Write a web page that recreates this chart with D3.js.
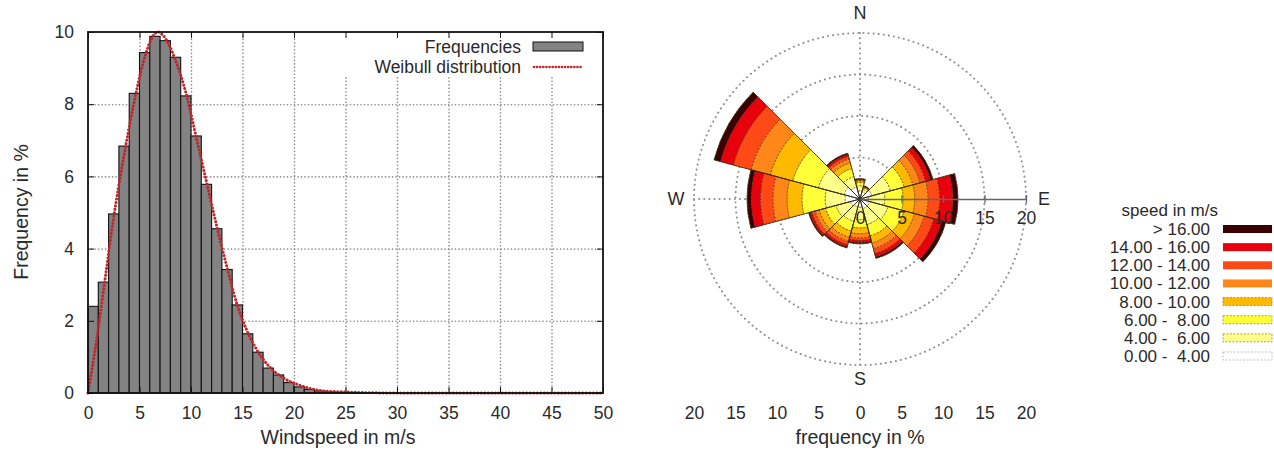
<!DOCTYPE html>
<html>
<head>
<meta charset="utf-8">
<script src="https://cdn.jsdelivr.net/npm/d3@7"></script>
<style>
	body { margin: 0; background: #fff; }
	text { font-family: "Liberation Sans", Arial, sans-serif; fill: #2a2a2a; white-space: pre; }
</style>
</head>
<body>
<script>
//everything inside an anonymous function so nothing ends up in global scope
(function () {
	//histogram data: one bar per 1 m/s bin (bin start in m/s, frequency in %)
	var binStart = [0,1,2,3,4,5,6,7,8,9,10,11,12,13,14,15,16,17,18,19,20,21,22,23,24,25,26,27,28,29];
	var binFreq = [2.40,3.07,4.96,6.84,8.30,9.43,9.88,9.76,9.30,8.23,7.12,5.78,4.55,3.42,2.44,1.64,1.13,0.69,0.50,0.29,0.17,0.10,0.06,0.03,0.02,0.01,0.01,0.005,0.005,0.005];

	//fitted weibull curve
	var weibullX = [0,0.84,1.65,2.46,3.43,4.4,5.37,6.34,6.8,7.31,8.45,9.58,10.55,11.52,12.5,13.47,14.43,15.4,16.4,17.7,19.0,20.3,21.5,22.8,24.8,27,30,50];
	var weibullY = [0,1.47,3.14,4.8,6.47,7.95,9.16,9.9,10.0,9.9,9.25,8.23,7.03,5.83,4.62,3.51,2.49,1.75,1.19,0.70,0.41,0.24,0.13,0.06,0.03,0.01,0,0];

	var histXTicks = [0,5,10,15,20,25,30,35,40,45,50];
	var histYTicks = [0,2,4,6,8,10];

	//wind rose data: 12 direction sectors (degrees from north), frequency in % per speed class
	var directions = [0,30,60,90,120,150,180,210,240,270,300,330];
	var classLabels = ["0.00 -  4.00","4.00 -  6.00","6.00 -  8.00","8.00 - 10.00","10.00 - 12.00","12.00 - 14.00","14.00 - 16.00","> 16.00"];
	var speed0to4   = [1.0,0.9,1.5,1.0,1.2,1.2,1.0,1.0,1.2,1.8,2.0,1.5];
	var speed4to6   = [0.6,0.3,2.3,2.0,2.3,2.0,1.5,1.8,1.8,2.4,3.2,1.3];
	var speed6to8   = [0.4,0.2,1.7,2.2,2.0,1.4,1.0,1.2,1.3,2.8,3.2,1.0];
	var speed8to10  = [0.2,0.1,1.1,1.4,1.3,0.9,0.7,0.8,0.8,1.8,2.8,0.7];
	var speed10to12 = [0.1,0.05,0.9,1.6,1.2,0.7,0.5,0.5,0.5,1.7,2.4,0.5];
	var speed12to14 = [0.05,0.05,0.7,1.4,1.2,0.6,0.3,0.4,0.4,1.5,2.2,0.3];
	var speed14to16 = [0.05,0.02,0.6,1.6,1.0,0.4,0.25,0.25,0.25,1.1,1.6,0.25];
	var speedOver16 = [0.05,0.03,0.3,0.6,0.5,0.2,0.15,0.15,0.15,0.5,0.8,0.15];
	var classColors = ["#ffffff","#ffff8c","#ffff38","#ffba00","#ff8618","#ff4a16","#e8000c","#3a0000"];

	var roseRings = [5,10,15,20];
	var roseAxisTicks = [0,5,10,15,20];
	var freqTicks = [-20,-15,-10,-5,0,5,10,15,20];

	var svg = d3.select("body")
		.append("svg")
		.attr("width", 1274)
		.attr("height", 450);

	drawHistogram();
	drawRose();
	drawRoseLegend();

	function drawHistogram() {
		var x = d3.scaleLinear().domain([0, 50]).range([88, 603]);
		var y = d3.scaleLinear().domain([0, 10]).range([393, 32]);
		var g = svg.append("g").attr("class", "hist");

		//dotted grid lines
		var dots = function (sel) {
			sel.select(".domain").remove();
			sel.selectAll("text").remove();
			sel.selectAll("line")
				.attr("stroke", "#8a8a8a")
				.attr("stroke-width", 1.6)
				.attr("stroke-linecap", "round")
				.attr("stroke-dasharray", "0.1,3.4");
		};
		g.append("g")
			.attr("transform", "translate(0," + y(0) + ")")
			.call(d3.axisBottom(x).tickValues(histXTicks.slice(1, -1)).tickSize(-(y(0) - y(10))))
			.call(dots);
		g.append("g")
			.attr("transform", "translate(" + x(0) + ",0)")
			.call(d3.axisLeft(y).tickValues(histYTicks.slice(1, -1)).tickSize(-(x(50) - x(0))))
			.call(dots);

		//keep the key area clear of grid
		g.append("rect")
			.attr("x", 305).attr("y", 34)
			.attr("width", 296).attr("height", 42)
			.attr("fill", "#fff");

		//bars
		g.selectAll(".bar")
			.data(binFreq)
			.enter()
			.append("rect")
			.attr("class", "bar")
			.attr("x", function (d, i) { return x(binStart[i]); })
			.attr("width", function (d, i) { return x(binStart[i] + 1) - x(binStart[i]); })
			.attr("y", function (d) { return y(d); })
			.attr("height", function (d) { return y(0) - y(d); })
			.attr("fill", "#838383")
			.attr("stroke", "#111")
			.attr("stroke-width", 1.1);

		//weibull curve
		var line = d3.line()
			.x(function (d, i) { return x(weibullX[i]); })
			.y(function (d) { return y(d); })
			.curve(d3.curveMonotoneX);
		g.append("path")
			.datum(weibullY)
			.attr("d", line)
			.attr("fill", "none")
			.attr("stroke", "#c0262c")
			.attr("stroke-width", 3)
			.attr("stroke-linecap", "round")
			.attr("stroke-dasharray", "0.1,3.4");

		//frame
		g.append("rect")
			.attr("x", x(0)).attr("y", y(10))
			.attr("width", x(50) - x(0)).attr("height", y(0) - y(10))
			.attr("fill", "none")
			.attr("stroke", "#111")
			.attr("stroke-width", 1.8);

		//axes with inward ticks, mirrored on top and right
		var tidy = function (sel) {
			sel.select(".domain").remove();
			sel.selectAll("line").attr("stroke", "#111");
			sel.selectAll("text")
				.style("font-size", "17.5px")
				.attr("fill", "#2a2a2a");
		};
		g.append("g")
			.attr("transform", "translate(0," + y(0) + ")")
			.call(d3.axisBottom(x).tickValues(histXTicks).tickSize(-6).tickPadding(14))
			.call(tidy);
		g.append("g")
			.attr("transform", "translate(0," + y(10) + ")")
			.call(d3.axisTop(x).tickValues(histXTicks).tickSize(-6).tickFormat(""))
			.call(tidy);
		g.append("g")
			.attr("transform", "translate(" + x(0) + ",0)")
			.call(d3.axisLeft(y).tickValues(histYTicks).tickSize(-6).tickPadding(14))
			.call(tidy);
		g.append("g")
			.attr("transform", "translate(" + x(50) + ",0)")
			.call(d3.axisRight(y).tickValues(histYTicks).tickSize(-6).tickFormat(""))
			.call(tidy);

		//axis titles
		g.append("text")
			.attr("x", 338).attr("y", 444)
			.attr("text-anchor", "middle")
			.style("font-size", "19.5px")
			.text("Windspeed in m/s");
		g.append("text")
			.attr("transform", "translate(28,212) rotate(-90)")
			.attr("text-anchor", "middle")
			.style("font-size", "19.5px")
			.text("Frequency in %");

		//key
		g.append("text")
			.attr("x", 521).attr("y", 53)
			.attr("text-anchor", "end")
			.style("font-size", "17.5px")
			.text("Frequencies");
		g.append("rect")
			.attr("x", 533).attr("y", 42)
			.attr("width", 50).attr("height", 9)
			.attr("fill", "#838383")
			.attr("stroke", "#111");
		g.append("text")
			.attr("x", 521).attr("y", 73)
			.attr("text-anchor", "end")
			.style("font-size", "17.5px")
			.text("Weibull distribution");
		g.append("line")
			.attr("x1", 534).attr("x2", 583)
			.attr("y1", 67).attr("y2", 67)
			.attr("stroke", "#c0262c")
			.attr("stroke-width", 2.6)
			.attr("stroke-linecap", "round")
			.attr("stroke-dasharray", "0.1,3");
	}

	function drawRose() {
		var cx = 860, cy = 199;
		var r = d3.scaleLinear().domain([0, 20]).range([0, 166]);
		var g = svg.append("g").attr("class", "rose").attr("transform", "translate(" + cx + "," + cy + ")");

		//dotted rings and N-S / W axis lines
		g.selectAll(".ring")
			.data(roseRings)
			.enter()
			.append("circle")
			.attr("class", "ring")
			.attr("r", function (d) { return r(d); })
			.attr("fill", "none")
			.attr("stroke", "#8f8f8f")
			.attr("stroke-width", 2)
			.attr("stroke-linecap", "round")
			.attr("stroke-dasharray", "0.1,5");
		var spokes = [[0, -20, 0, 20], [-20, 0, 0, 0]];
		g.selectAll(".spoke")
			.data(spokes)
			.enter()
			.append("line")
			.attr("x1", function (d) { return r(d[0]); })
			.attr("y1", function (d) { return r(d[1]); })
			.attr("x2", function (d) { return r(d[2]); })
			.attr("y2", function (d) { return r(d[3]); })
			.attr("stroke", "#8f8f8f")
			.attr("stroke-width", 2)
			.attr("stroke-linecap", "round")
			.attr("stroke-dasharray", "0.1,5");

		//stack the speed classes per direction
		var keys = ["s0", "s1", "s2", "s3", "s4", "s5", "s6", "s7"];
		var classArrays = [speed0to4, speed4to6, speed6to8, speed8to10, speed10to12, speed12to14, speed14to16, speedOver16];
		var rows = directions.map(function (dir, i) {
			var row = { dir: dir };
			keys.forEach(function (k, j) { row[k] = classArrays[j][i]; });
			return row;
		});
		var stacked = d3.stack().keys(keys)(rows);

		var arc = d3.arc()
			.innerRadius(function (d) { return r(d[0]); })
			.outerRadius(function (d) { return r(d[1]); })
			.startAngle(function (d) { return (d.data.dir - 15) * Math.PI / 180; })
			.endAngle(function (d) { return (d.data.dir + 15) * Math.PI / 180; });

		var layers = g.selectAll(".layer")
			.data(stacked)
			.enter()
			.append("g")
			.attr("class", "layer");
		layers.selectAll("path")
			.data(function (d) { return d; })
			.enter()
			.append("path")
			.attr("d", arc)
			.attr("fill", function (d, i, nodes) { return classColors[keys.indexOf(d3.select(nodes[i].parentNode).datum().key)]; })
			.attr("stroke", function (d, i, nodes) {
				return d3.select(nodes[i].parentNode).datum().key == "s0" ? "#aaa" : "#4a2a00";
			})
			.attr("stroke-width", 0.6)
			.attr("stroke-dasharray", "2,1.5");

		//solid outline of each sector
		var outline = d3.arc()
			.innerRadius(0)
			.outerRadius(function (d) { return r(d[1]); })
			.startAngle(function (d) { return (d.data.dir - 15) * Math.PI / 180; })
			.endAngle(function (d) { return (d.data.dir + 15) * Math.PI / 180; });
		g.selectAll(".outline")
			.data(stacked[stacked.length - 1])
			.enter()
			.append("path")
			.attr("class", "outline")
			.attr("d", outline)
			.attr("fill", "none")
			.attr("stroke", "#3a2a10")
			.attr("stroke-width", 0.8);

		//centre mark
		g.append("circle").attr("r", 2.5).attr("fill", "#333");

		//east axis with ticks
		var rx = d3.scaleLinear().domain([0, 20]).range([0, r(20)]);
		var eAxis = g.append("g")
			.call(d3.axisBottom(rx).tickValues(roseAxisTicks).tickSize(4).tickPadding(9).tickSizeOuter(0));
		eAxis.select(".domain").attr("stroke", "#666").attr("stroke-width", 1.5);
		eAxis.selectAll("line").attr("y1", -4).attr("stroke", "#666").attr("stroke-width", 1.3);
		eAxis.selectAll(".tick").filter(function (d) { return d == 0; }).select("line").remove();
		eAxis.selectAll("text").style("font-size", "17.5px").attr("fill", "#2a2a2a");

		//compass letters
		var compass = [["N", 0, -r(20) - 14], ["S", 0, r(20) + 20], ["W", -r(20) - 18, 6], ["E", r(20) + 18, 6]];
		g.selectAll(".compass")
			.data(compass)
			.enter()
			.append("text")
			.attr("class", "compass")
			.attr("x", function (d) { return d[1]; })
			.attr("y", function (d) { return d[2]; })
			.attr("text-anchor", "middle")
			.style("font-size", "18px")
			.text(function (d) { return d[0]; });

		//frequency axis below the rose
		var fx = d3.scaleLinear().domain([-20, 20]).range([-r(20), r(20)]);
		var fAxis = g.append("g")
			.attr("transform", "translate(0," + (413 - cy) + ")")
			.call(d3.axisBottom(fx).tickValues(freqTicks).tickSize(0).tickPadding(0).tickFormat(function (d) { return Math.abs(d); }));
		fAxis.select(".domain").remove();
		fAxis.selectAll("text").attr("dy", "0.35em").style("font-size", "17.5px").attr("fill", "#2a2a2a");

		g.append("text")
			.attr("x", 0).attr("y", 444 - cy)
			.attr("text-anchor", "middle")
			.style("font-size", "19.5px")
			.text("frequency in %");
	}

	function drawRoseLegend() {
		var g = svg.append("g").attr("class", "legend");
		var rowY = d3.scaleLinear().domain([0, 7]).range([229, 356]);
		var order = [7, 6, 5, 4, 3, 2, 1, 0];

		g.append("text")
			.attr("x", 1218).attr("y", 216)
			.attr("text-anchor", "end")
			.style("font-size", "17px")
			.text("speed in m/s");

		var rows = g.selectAll(".row")
			.data(order)
			.enter()
			.append("g")
			.attr("class", "row")
			.attr("transform", function (d, i) { return "translate(0," + rowY(i) + ")"; });
		rows.append("text")
			.attr("x", 1210).attr("y", 6)
			.attr("text-anchor", "end")
			.style("font-size", "17px")
			.text(function (d) { return classLabels[d]; });
		rows.append("rect")
			.attr("x", 1223).attr("y", -4)
			.attr("width", 49).attr("height", 8)
			.attr("fill", function (d) { return classColors[d]; })
			.attr("stroke", function (d) { return d == 0 ? "#aaa" : (d < 4 ? "#8a7a20" : "none"); })
			.attr("stroke-width", 0.7)
			.attr("stroke-dasharray", "2,1.5");
	}
})();
</script>
</body>
</html>
